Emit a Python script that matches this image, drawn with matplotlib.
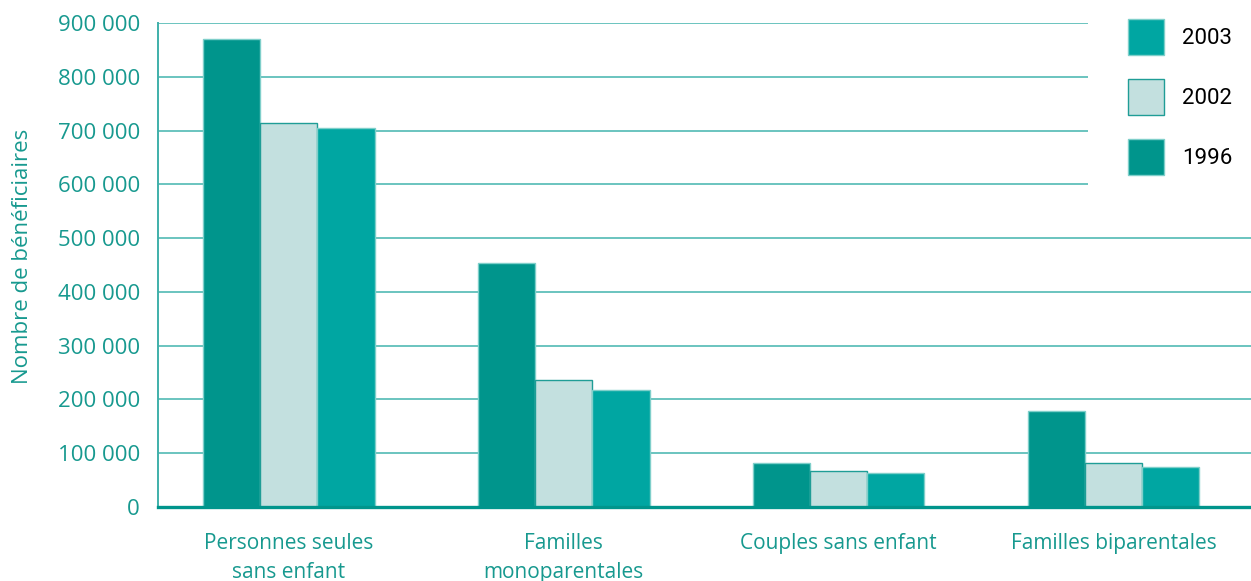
import numpy as np
import matplotlib.pyplot as plt
from matplotlib.patches import Rectangle
from matplotlib.ticker import FuncFormatter

categories = ['Personnes seules\nsans enfant', 'Familles\nmonoparentales',
              'Couples sans enfant', 'Familles biparentales']
years = ['1996', '2002', '2003']
values_1996 = [870000, 454000, 82000, 178000]
values_2002 = [714000, 236000, 67000, 82000]
values_2003 = [705000, 218000, 63000, 74000]
y_ticks = [0, 100000, 200000, 300000, 400000, 500000, 600000, 700000, 800000, 900000]

TEAL_TEXT = '#17998f'
COLORS = {'1996': '#00958c', '2002': '#c3e0df', '2003': '#00a6a2'}
EDGES = {'1996': '#7fcfca', '2002': '#1f9d96', '2003': '#7fcfca'}
GRID = '#5fbfba'

plt.rcParams['font.family'] = ['Open Sans', 'DejaVu Sans']

fig = plt.figure(figsize=(12.51, 5.81), dpi=100)
W, H = 1251, 581
ax = fig.add_axes([158 / W, 1 - 507 / H, (W - 158) / W, (507 - 23) / H])

x = np.arange(len(categories))
width = 0.208
series = {'1996': values_1996, '2002': values_2002, '2003': values_2003}
bars = {}
for i, year in enumerate(years):
    bars[year] = ax.bar(x + (i - 1) * width, series[year], width,
                        color=COLORS[year], edgecolor=EDGES[year],
                        linewidth=1.0, zorder=3, label=year)

ax.set_xlim(-0.476, 3.5)
ax.set_ylim(0, 900000)
ax.set_yticks(y_ticks)
ax.yaxis.set_major_formatter(FuncFormatter(lambda v, p: f'{int(v):,}'.replace(',', ' ')))
ax.grid(axis='y', color=GRID, linewidth=1.3, zorder=0)
ax.set_axisbelow(True)

ax.set_xticks(x)
ax.set_xticklabels(categories, fontsize=15, color=TEAL_TEXT, linespacing=1.45)
ax.tick_params(axis='x', length=0, pad=19)
ax.tick_params(axis='y', length=0, pad=13, labelsize=16, labelcolor=TEAL_TEXT)

for side in ['top', 'right']:
    ax.spines[side].set_visible(False)
ax.spines['left'].set_color('#3fb0aa')
ax.spines['left'].set_linewidth(1.4)
ax.spines['bottom'].set_color('#00958c')
ax.spines['bottom'].set_linewidth(2.4)
ax.spines['bottom'].set_zorder(4)

ax.set_ylabel('Nombre de bénéficiaires', fontsize=16, color=TEAL_TEXT)
ax.yaxis.set_label_coords(-0.114, 0.517)

# white panel behind the legend, hiding the upper gridlines
fig.patches.append(Rectangle((1088 / W, 1 - 205 / H), 1 - 1088 / W, 205 / H,
                             transform=fig.transFigure, facecolor='white',
                             edgecolor='none', zorder=1))

handles = [bars['2003'], bars['2002'], bars['1996']]
fig.legend(handles, ['2003', '2002', '1996'], loc='upper left',
           bbox_to_anchor=(1128 / W, 1 - 19 / H), frameon=False,
           borderpad=0, borderaxespad=0,
           handlelength=1.62, handleheight=2.12, labelspacing=1.08,
           handletextpad=0.8, prop={'family': 'Roboto', 'size': 16})

fig.savefig('out.png', dpi=100)
